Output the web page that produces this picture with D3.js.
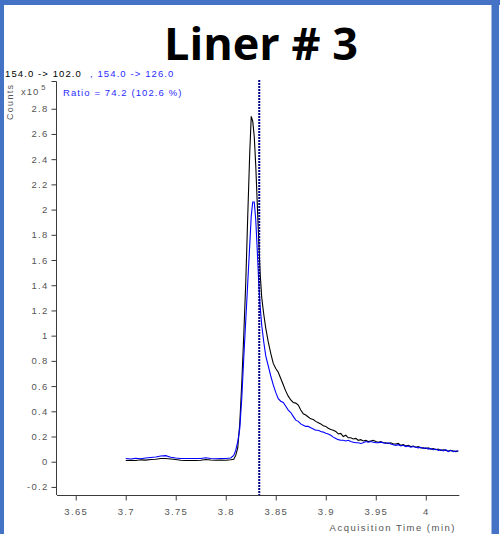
<!DOCTYPE html>
<html>
<head>
<meta charset="utf-8">
<script src="https://cdn.jsdelivr.net/npm/d3@7"></script>
<style>
  html, body { margin: 0; padding: 0; background: #fff; }
  svg { display: block; }
  .tick-label { font-family: "Liberation Sans", Arial, sans-serif; font-size: 9.5px; fill: #555; letter-spacing: 1.3px; }
</style>
</head>
<body>
<svg id="chart" width="500" height="534"></svg>
<script>
// Acquisition times (min), shared by both transitions
const baseTimes = [3.700, 3.705, 3.710, 3.715, 3.720, 3.725, 3.730, 3.735, 3.740, 3.745, 3.750,
  3.755, 3.760, 3.765, 3.770, 3.775, 3.780, 3.785, 3.790, 3.795, 3.800, 3.805];
const peakTimes = [3.808, 3.810, 3.812, 3.814, 3.816, 3.818, 3.820, 3.822, 3.824, 3.8255,
  3.827, 3.8285, 3.830, 3.8315, 3.833, 3.8345, 3.836, 3.838, 3.840];
const tailTimes = [3.8425, 3.845, 3.8475, 3.85, 3.8525, 3.855, 3.8575, 3.86, 3.8625, 3.865,
  3.8675, 3.87, 3.8725, 3.875, 3.8775, 3.88, 3.8825, 3.885, 3.8875, 3.89, 3.8925, 3.895,
  3.8975, 3.9, 3.9025, 3.905, 3.9075, 3.91, 3.9125, 3.915, 3.9175, 3.92, 3.9225, 3.925,
  3.9275, 3.93, 3.9325, 3.935, 3.9375, 3.94, 3.9425, 3.945, 3.9475, 3.95,
  3.9525, 3.955, 3.9575, 3.96, 3.9625, 3.965, 3.9675, 3.97, 3.9725, 3.975, 3.9775, 3.98,
  3.9825, 3.985, 3.9875, 3.99, 3.9925, 3.995, 3.9975, 4.0, 4.0025, 4.005, 4.0075, 4.01,
  4.0125, 4.015, 4.0175, 4.02, 4.0225, 4.025, 4.0275, 4.03, 4.0325];

// Quantifier transition 154.0 -> 102.0 (counts x10^5)
const quantBase = [0.010, 0.012, 0.010, 0.015, 0.013, 0.018, 0.020, 0.025, 0.026, 0.022, 0.018,
  0.012, 0.010, 0.010, 0.010, 0.012, 0.018, 0.014, 0.012, 0.014, 0.012, 0.015];
const quantPeak = [0.02, 0.05, 0.11, 0.30, 0.62, 1.00, 1.42, 1.95, 2.45, 2.74,
  2.70, 2.58, 2.35, 2.05, 1.75, 1.48, 1.30, 1.17, 1.06];
const quantTail = [0.95, 0.86, 0.78, 0.74, 0.71, 0.66, 0.61, 0.56, 0.52, 0.49, 0.47, 0.465,
  0.45, 0.41, 0.38, 0.37, 0.355, 0.34, 0.335, 0.32, 0.31, 0.30, 0.285, 0.28, 0.265, 0.255,
  0.25, 0.24, 0.22, 0.225, 0.20, 0.21, 0.19, 0.19, 0.18, 0.185, 0.17, 0.175, 0.165, 0.17,
  0.16, 0.165, 0.17, 0.16,
  0.155, 0.16, 0.15, 0.15, 0.145, 0.15, 0.14, 0.14, 0.145, 0.13, 0.135, 0.125, 0.13, 0.12,
  0.125, 0.115, 0.12, 0.11, 0.11, 0.105, 0.11, 0.10, 0.105, 0.095, 0.10, 0.09, 0.095, 0.09,
  0.085, 0.09, 0.085, 0.08, 0.085];

// Qualifier transition 154.0 -> 126.0 (counts x10^5)
const qualBase = [0.025, 0.022, 0.028, 0.024, 0.030, 0.034, 0.038, 0.045, 0.048, 0.035, 0.030,
  0.026, 0.025, 0.025, 0.026, 0.025, 0.032, 0.026, 0.024, 0.026, 0.025, 0.030];
const qualPeak = [0.05, 0.09, 0.16, 0.26, 0.50, 0.82, 1.12, 1.42, 1.72, 1.95,
  2.06, 2.06, 1.92, 1.68, 1.42, 1.22, 1.08, 0.95, 0.84];
const qualTail = [0.76, 0.68, 0.61, 0.55, 0.50, 0.48, 0.47, 0.44, 0.41, 0.39, 0.36, 0.33,
  0.32, 0.30, 0.29, 0.28, 0.28, 0.27, 0.26, 0.25, 0.25, 0.24, 0.235, 0.225, 0.22, 0.21,
  0.195, 0.185, 0.175, 0.17, 0.17, 0.165, 0.17, 0.16, 0.155, 0.15, 0.15, 0.145, 0.15, 0.16,
  0.155, 0.16, 0.155, 0.15,
  0.15, 0.155, 0.15, 0.145, 0.15, 0.14, 0.135, 0.13, 0.135, 0.125, 0.13, 0.12, 0.125, 0.115,
  0.12, 0.115, 0.11, 0.115, 0.105, 0.11, 0.10, 0.105, 0.095, 0.10, 0.09, 0.095, 0.085, 0.095,
  0.08, 0.09, 0.08, 0.085, 0.085];

// Expected retention time marker (min)
const retentionTime = 3.8335;

// Axis ticks
const xTicks = [3.65, 3.70, 3.75, 3.80, 3.85, 3.90, 3.95, 4.00];
const yTicks = [-0.2, 0, 0.2, 0.4, 0.6, 0.8, 1.0, 1.2, 1.4, 1.6, 1.8, 2.0, 2.2, 2.4, 2.6, 2.8];

const times = baseTimes.concat(peakTimes, tailTimes);
const quant = quantBase.concat(quantPeak, quantTail);
const qual = qualBase.concat(qualPeak, qualTail);

const svg = d3.select("#chart");
const W = 500, H = 534;

// Frame
const frameBlue = "#4472c4";
svg.append("rect").attr("x", 0).attr("y", 0).attr("width", W).attr("height", 5).attr("fill", frameBlue);
svg.append("rect").attr("x", 0).attr("y", 0).attr("width", 4).attr("height", H).attr("fill", frameBlue);
svg.append("rect").attr("x", 491.5).attr("y", 0).attr("width", 7.5).attr("height", H).attr("fill", frameBlue);

// Plot area
const plotLeft = 57, plotRight = 459.3, plotTop = 81, plotBottom = 495;
const x = d3.scaleLinear().domain([3.6313, 4.0335]).range([plotLeft, plotRight]);
const y = d3.scaleLinear().domain([-0.264, 3.02]).range([plotBottom, plotTop]);

const axisColor = "#3a3a3a";
const fmt = d => String(+d.toFixed(2));

// Y axis
const yAxis = d3.axisLeft(y).tickValues(yTicks).tickFormat(fmt).tickSize(5).tickSizeOuter(0).tickPadding(3);
const gy = svg.append("g").attr("transform", `translate(${plotLeft - 0.5},0)`).call(yAxis);
gy.select(".domain").remove();
gy.selectAll(".tick line").attr("stroke", axisColor);
gy.selectAll(".tick text").attr("class", "tick-label").attr("font-family", null).attr("font-size", null).attr("fill", null);
gy.append("path").attr("d", `M-5,${plotTop + 0.5}H0V${plotBottom}`).attr("fill", "none").attr("stroke", axisColor);

// X axis
const xAxis = d3.axisBottom(x).tickValues(xTicks).tickFormat(fmt).tickSize(5).tickSizeOuter(0).tickPadding(8);
const gx = svg.append("g").attr("transform", `translate(0,${plotBottom + 0.5})`).call(xAxis);
gx.select(".domain").remove();
gx.selectAll(".tick line").attr("stroke", axisColor);
gx.selectAll(".tick text").attr("class", "tick-label").attr("font-family", null).attr("font-size", null).attr("fill", null);
gx.append("path").attr("d", `M${plotLeft},0H${plotRight}`).attr("fill", "none").attr("stroke", axisColor);

// Traces
const line = vals => d3.line().x((d, i) => x(times[i])).y(d => y(d))(vals);
svg.append("path").attr("d", line(quant)).attr("fill", "none").attr("stroke", "#000").attr("stroke-width", 1.1);
svg.append("path").attr("d", line(qual)).attr("fill", "none").attr("stroke", "#0000ff").attr("stroke-width", 1.1);

// Retention time marker
svg.append("line")
  .attr("x1", x(retentionTime)).attr("x2", x(retentionTime))
  .attr("y1", 80).attr("y2", plotBottom)
  .attr("stroke", "#00008b").attr("stroke-width", 2).attr("stroke-dasharray", "2,1");

// Title
svg.append("text").attr("x", 261).attr("y", 60).attr("text-anchor", "middle")
  .attr("font-family", "'Open Sans', 'Noto Sans', sans-serif").attr("font-weight", 700)
  .attr("font-size", 45).attr("fill", "#000").text("Liner # 3");

// Transition header
const small = "'Liberation Sans', Arial, sans-serif";
const hdr = svg.append("text").attr("x", 5).attr("y", 77).attr("font-family", small).attr("font-size", 9.5)
  .style("letter-spacing", "1.1px");
hdr.append("tspan").attr("fill", "#000").text("154.0 -> 102.0");
hdr.append("tspan").attr("x", 90).attr("fill", "#2a2aff").text(", 154.0 -> 126.0");

svg.append("text").attr("x", 63).attr("y", 96).attr("font-family", small).attr("font-size", 9.5)
  .attr("fill", "#2a2aff").style("letter-spacing", "1.1px").text("Ratio = 74.2 (102.6 %)");

// Y scale multiplier
const mult = svg.append("text").attr("x", 21).attr("y", 95).attr("font-family", small)
  .attr("font-size", 9.5).attr("fill", "#555").style("letter-spacing", "1px");
mult.append("tspan").text("x10");
mult.append("tspan").attr("dx", 2).attr("dy", -5).attr("font-size", 7.5).text("5");

// Axis titles
svg.append("text").attr("transform", "translate(13,120) rotate(-90)")
  .attr("font-family", small).attr("font-size", 9).attr("fill", "#555")
  .style("letter-spacing", "1.3px").text("Counts");

svg.append("text").attr("x", 456).attr("y", 531).attr("text-anchor", "end")
  .attr("font-family", small).attr("font-size", 9.5).attr("fill", "#555")
  .style("letter-spacing", "1.5px").text("Acquisition Time (min)");
</script>
</body>
</html>
